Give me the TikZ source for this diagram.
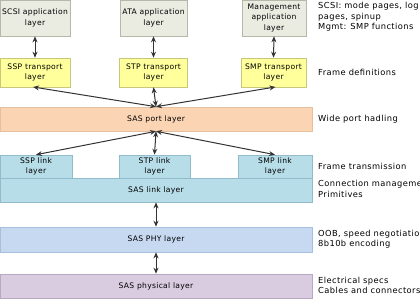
\documentclass[tikz,border=0pt]{standalone}
\usepackage{fontspec}
\setmainfont{DejaVu Sans}
\newfontfamily\boxfont[LetterSpace=4]{DejaVu Sans}
\newfontfamily\notefont[LetterSpace=5]{DejaVu Sans}
\usetikzlibrary{arrows.meta}
\definecolor{appfill}{HTML}{EAECE2}
\definecolor{appline}{HTML}{B5B8A8}
\definecolor{trfill}{HTML}{FFFF9C}
\definecolor{trline}{HTML}{C8C87A}
\definecolor{portfill}{HTML}{FBD4B4}
\definecolor{portline}{HTML}{E6BFA0}
\definecolor{linkfill}{HTML}{B7DDE8}
\definecolor{linkline}{HTML}{92BCCB}
\definecolor{phyfill}{HTML}{C6D9F1}
\definecolor{phyline}{HTML}{A5BFDC}
\definecolor{physfill}{HTML}{D9CBE0}
\definecolor{physline}{HTML}{B8A8C2}
\definecolor{arrowgray}{HTML}{333333}

\begin{document}
\begin{tikzpicture}[x=1pt, y=-1pt,
		font=\boxfont\fontsize{7.6}{10.5}\selectfont,
		layerbox/.style={draw, line width=0.6pt, inner sep=0pt, align=center},
		sidenote/.style={anchor=west, align=left, inner sep=0pt, font=\notefont\fontsize{8.3}{10.5}\selectfont},
		biarrow/.style={{Stealth[length=6pt,width=5pt]}-{Stealth[length=6pt,width=5pt]}, line width=1pt, draw=arrowgray}]
			\useasboundingbox (0,0) rectangle (420,298);
			\clip (0,0) rectangle (420,298);
			% application layers
			\node[layerbox, fill=appfill, draw=appline, minimum width=70, minimum height=36] (scsiapp) at (35,18) {SCSI application\\layer};
			\node[layerbox, fill=appfill, draw=appline, minimum width=67, minimum height=36] (ataapp) at (153.5,18) {ATA application\\layer};
			\node[layerbox, fill=appfill, draw=appline, minimum width=64, minimum height=36] (mgmtapp) at (274,18) {Management\\application\\layer};
			% transport layers
			\node[layerbox, fill=trfill, draw=trline, minimum width=70, minimum height=29] (ssptrans) at (35,72.5) {SSP transport\\layer};
			\node[layerbox, fill=trfill, draw=trline, minimum width=68, minimum height=29] (stptrans) at (153.5,72.5) {STP transport\\layer};
			\node[layerbox, fill=trfill, draw=trline, minimum width=65, minimum height=29] (smptrans) at (273.5,72.5) {SMP transport\\layer};
			% port layer
			\node[layerbox, fill=portfill, draw=portline, minimum width=312, minimum height=24] (portlayer) at (156,119) {SAS port layer};
			% link layers
			\node[layerbox, fill=linkfill, draw=linkline, minimum width=72, minimum height=23] (ssplink) at (36,166.5) {SSP link\\layer};
			\node[layerbox, fill=linkfill, draw=linkline, minimum width=71, minimum height=23] (stplink) at (154.5,166.5) {STP link\\layer};
			\node[layerbox, fill=linkfill, draw=linkline, minimum width=74, minimum height=23] (smplink) at (275,166.5) {SMP link\\layer};
			\node[layerbox, fill=linkfill, draw=linkline, minimum width=312, minimum height=24] (saslink) at (156,190) {SAS link layer};
			% phy and physical
			\node[layerbox, fill=phyfill, draw=phyline, minimum width=312, minimum height=25] (phylayer) at (156,239.5) {SAS PHY layer};
			\node[layerbox, fill=physfill, draw=physline, minimum width=312, minimum height=24] (physlayer) at (156,286) {SAS physical layer};

			\draw[biarrow] (scsiapp.south) -- (ssptrans.north);
			\draw[biarrow] (ataapp.south) -- (stptrans.north);
			\draw[biarrow] (mgmtapp.south) -- (smptrans.north);
			\draw[biarrow, shorten >=-2pt] (portlayer.north) -- (ssptrans.south);
			\draw[biarrow] (portlayer.north) -- (stptrans.south);
			\draw[biarrow, shorten >=-2pt] (portlayer.north) -- (smptrans.south);
			\draw[biarrow] (portlayer.south) -- (ssplink.north);
			\draw[biarrow] (portlayer.south) -- (stplink.north);
			\draw[biarrow] (portlayer.south) -- (smplink.north);
			\draw[biarrow] (saslink.south) -- (phylayer.north);
			\draw[biarrow] (phylayer.south) -- (physlayer.north);

			% notes on the right
			\node[sidenote] (noteapp) at (318,17) {SCSI: mode pages, log\\pages, spinup\\Mgmt: SMP functions};
			\node[sidenote] (notetrans) at (318,72) {Frame definitions};
			\node[sidenote] (noteport) at (318,119) {Wide port hadling};
			\node[sidenote] (notelink) at (318,166) {Frame transmission};
			\node[sidenote] (notesaslink) at (318,189) {Connection management\\Primitives};
			\node[sidenote] (notephy) at (318,239) {OOB, speed negotiation\\8b10b encoding};
			\node[sidenote] (notephys) at (318,285.5) {Electrical specs\\Cables and connectors};
		\end{tikzpicture}
\end{document}
